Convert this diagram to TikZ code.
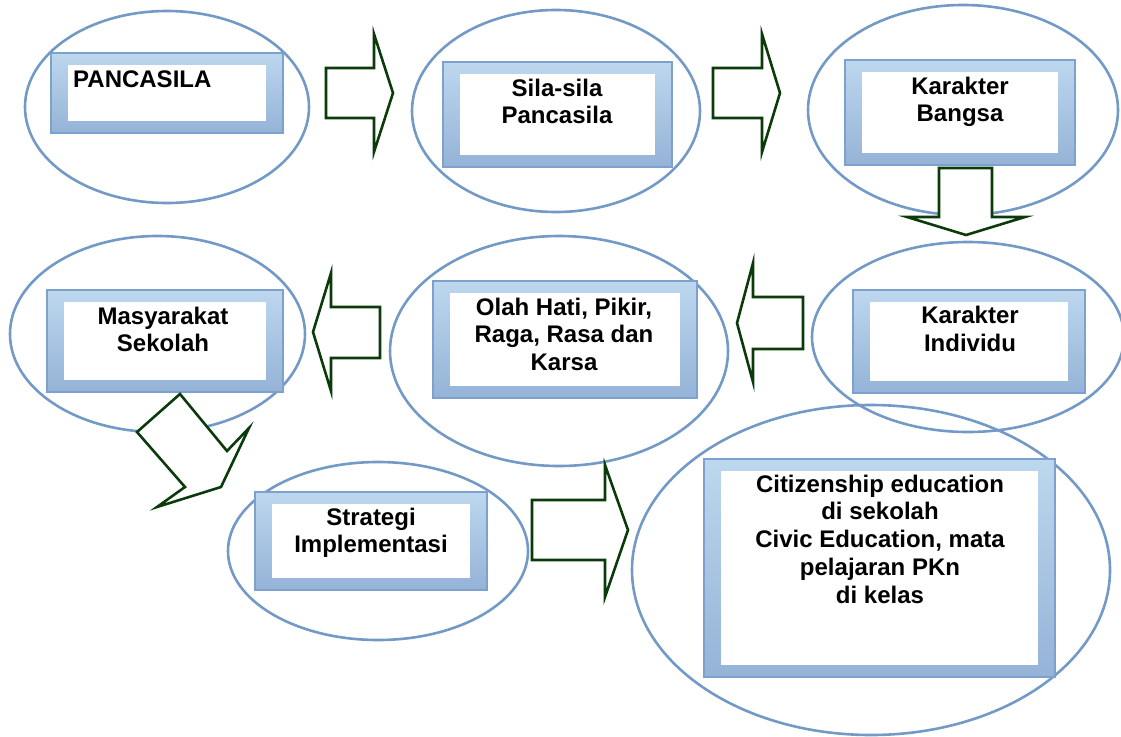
\documentclass[tikz,border=0pt]{standalone}
\usepackage{fontspec}
\setmainfont{Liberation Sans}
\usetikzlibrary{shapes.geometric}
\definecolor{ellblue}{HTML}{7399C6}
\definecolor{frtop}{HTML}{BDD7EE}
\definecolor{frbot}{HTML}{95B3D7}
\definecolor{frline}{HTML}{7DA0CD}
\definecolor{arrgreen}{HTML}{0B3A0B}
\tikzset{
  ell/.style={ellipse, draw=ellblue, line width=2.6pt, inner sep=0pt},
  frame/.style={draw=frline, line width=1.4pt, top color=frtop, bottom color=frbot, inner sep=0pt,
    path picture={\fill[white] ([xshift=17pt,yshift=-12pt]path picture bounding box.north west) rectangle ([xshift=-17pt,yshift=12pt]path picture bounding box.south east);}},
  blockarrow/.style={draw=arrgreen, fill=white, line width=2.6pt, line join=miter},
  lbl/.style={align=center, inner sep=0pt, font={\fontsize{24}{27.8}\selectfont\bfseries}},
}
\begin{document}
\begin{tikzpicture}[x=1pt,y=-1pt]
\useasboundingbox (0,0) rectangle (1121,736);
% ellipses
\node[ell, minimum width=284pt, minimum height=192pt] (e1) at (167,107) {};
\node[ell, minimum width=288pt, minimum height=202pt] (e2) at (556,111) {};
\node[ell, minimum width=310pt, minimum height=210pt] (e3) at (963,110) {};
\node[ell, minimum width=312pt, minimum height=190pt] (e4) at (968,337) {};
\node[ell, minimum width=338pt, minimum height=230pt] (e5) at (559,351) {};
\node[ell, minimum width=295pt, minimum height=196pt] (e6) at (157.5,334) {};
\node[ell, minimum width=300pt, minimum height=178pt] (e7) at (378,551) {};
\node[ell, minimum width=478pt, minimum height=330pt] (e8) at (871,570) {};
% frames
\node[frame, minimum width=232pt, minimum height=80pt] (b1) at (167,93) {};
\node[frame, minimum width=229pt, minimum height=105pt] (b2) at (557.5,114.5) {};
\node[frame, minimum width=230pt, minimum height=105pt] (b3) at (960,112.5) {};
\node[frame, minimum width=232pt, minimum height=103pt] (b4) at (969,341.5) {};
\node[frame, minimum width=264pt, minimum height=117pt] (b5) at (565,339.5) {};
\node[frame, minimum width=236pt, minimum height=102pt] (b6) at (165,341) {};
\node[frame, minimum width=232pt, minimum height=98pt] (b7) at (371,541) {};
\node[frame, minimum width=351pt, minimum height=218pt] (b8) at (879.5,568) {};
% labels (anchor=base is the baseline of the last line)
\node[lbl, anchor=base west] (t1) at (73,87) {PANCASILA};
\node[lbl, anchor=base] (t2) at (557,123.8) {Sila-sila\\Pancasila};
\node[lbl, anchor=base] (t3) at (960,121.8) {Karakter\\Bangsa};
\node[lbl, anchor=base] (t4) at (970,351) {Karakter\\Individu};
\node[lbl, anchor=base] (t5) at (564,370.6) {Olah Hati, Pikir,\\Raga, Rasa dan\\Karsa};
\node[lbl, anchor=base] (t6) at (163,351.8) {Masyarakat\\Sekolah};
\node[lbl, anchor=base] (t7) at (371,552.8) {Strategi\\Implementasi};
\node[lbl, anchor=base] (t8) at (880,603.2) {Citizenship education\\di sekolah\\Civic Education, mata\\pelajaran PKn\\di kelas};
% block arrows
\draw[blockarrow] (326,68) -- (374,68) -- (374,34) -- (393,93) -- (374,152) -- (374,118) -- (326,118) -- cycle;
\draw[blockarrow] (713,68) -- (762,68) -- (762,34) -- (780,93) -- (762,152) -- (762,118) -- (713,118) -- cycle;
\draw[blockarrow] (939,168) -- (992,168) -- (992,217) -- (1025,217) -- (966,235) -- (907,217) -- (939,217) -- cycle;
\draw[blockarrow] (803,297) -- (753,297) -- (753,263) -- (737,323) -- (753,382) -- (753,349) -- (803,349) -- cycle;
\draw[blockarrow] (380,307) -- (331,307) -- (331,273) -- (313,332) -- (331,391) -- (331,358) -- (380,358) -- cycle;
\draw[blockarrow] (180,394) -- (227,451) -- (249,428) -- (221,487) -- (157,507) -- (185,487) -- (137,432) -- cycle;
\draw[blockarrow] (532,500) -- (605,500) -- (605,465) -- (628,530) -- (605,597) -- (605,560) -- (532,560) -- cycle;
\end{tikzpicture}
\end{document}
